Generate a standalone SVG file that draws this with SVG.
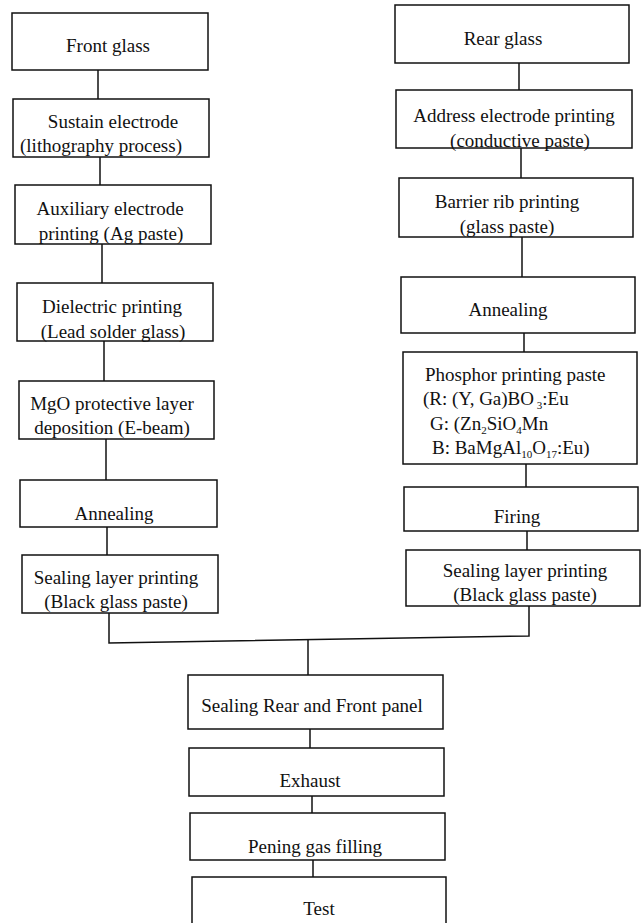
<svg xmlns="http://www.w3.org/2000/svg" width="642" height="923" viewBox="0 0 642 923">
<style>
rect.b{fill:#fff;stroke:#111;stroke-width:1.5}
text{font-family:"Liberation Serif","Times New Roman",serif;font-size:19px;fill:#111;text-anchor:middle}
text.l{text-anchor:start}
.c line,.c polyline{stroke:#111;stroke-width:1.5;fill:none}
tspan.s{font-size:11px}
</style>
<rect width="642" height="923" fill="#fff"/>
<g class="c" id="connectors">
<line x1="98" y1="70" x2="98" y2="99"/>
<line x1="100" y1="157" x2="100" y2="185"/>
<line x1="102" y1="244" x2="102" y2="283"/>
<line x1="104" y1="341" x2="104" y2="381"/>
<line x1="106" y1="439" x2="106" y2="480"/>
<line x1="107" y1="527" x2="107" y2="555"/>
<line x1="519" y1="63" x2="519" y2="90"/>
<line x1="521" y1="148" x2="521" y2="178"/>
<line x1="522" y1="237" x2="522" y2="277"/>
<line x1="524" y1="333" x2="524" y2="352"/>
<line x1="526" y1="464" x2="526" y2="487"/>
<line x1="527" y1="531" x2="527" y2="550"/>
<polyline points="109,613 109,643 529,636 529,606"/>
<line x1="308" y1="640" x2="308" y2="675"/>
<line x1="310" y1="729" x2="310" y2="748"/>
<line x1="312" y1="796" x2="312" y2="813"/>
<line x1="313" y1="860" x2="313" y2="877"/>
</g>
<g id="front-glass"><rect class="b" x="12" y="13" width="196" height="57"/><text x="108" y="52">Front glass</text></g>
<g id="sustain"><rect class="b" x="13" y="99" width="196" height="58"/><text x="113" y="128">Sustain electrode</text><text x="101" y="152">(lithography process)</text></g>
<g id="auxiliary"><rect class="b" x="15" y="185" width="196" height="59"/><text x="110" y="215">Auxiliary electrode</text><text x="111" y="240">printing (Ag paste)</text></g>
<g id="dielectric"><rect class="b" x="17" y="283" width="196" height="58"/><text x="112" y="313">Dielectric printing</text><text x="113" y="338">(Lead solder glass)</text></g>
<g id="mgo"><rect class="b" x="19" y="381" width="195" height="58"/><text x="112" y="410">MgO protective layer</text><text x="112" y="434">deposition (E-beam)</text></g>
<g id="annealing-left"><rect class="b" x="20" y="480" width="197" height="47"/><text x="114" y="520">Annealing</text></g>
<g id="sealing-left"><rect class="b" x="22" y="555" width="196" height="58"/><text x="116" y="584">Sealing layer printing</text><text x="116" y="608">(Black glass paste)</text></g>
<g id="rear-glass"><rect class="b" x="395" y="5" width="234" height="58"/><text x="503" y="45">Rear glass</text></g>
<g id="address"><rect class="b" x="396" y="90" width="236" height="58"/><text x="514" y="122">Address electrode printing</text><text x="520" y="147">(conductive paste)</text></g>
<g id="barrier"><rect class="b" x="399" y="178" width="234" height="59"/><text x="507" y="208">Barrier rib printing</text><text x="507" y="233">(glass paste)</text></g>
<g id="annealing-right"><rect class="b" x="401" y="277" width="234" height="56"/><text x="508" y="316">Annealing</text></g>
<g id="phosphor"><rect class="b" x="403" y="352" width="234" height="112"/>
<text class="l" x="425" y="381">Phosphor printing paste</text>
<text class="l" x="423" y="405">(R: (Y, Ga)BO<tspan class="s" dy="4"> 3</tspan><tspan dy="-4">:Eu</tspan></text>
<text class="l" x="430" y="430">G: (Zn<tspan class="s" dy="4">2</tspan><tspan dy="-4">SiO</tspan><tspan class="s" dy="4">4</tspan><tspan dy="-4">Mn</tspan></text>
<text class="l" x="432" y="454">B: BaMgAl<tspan class="s" dy="4">10</tspan><tspan dy="-4">O</tspan><tspan class="s" dy="4">17</tspan><tspan dy="-4">:Eu)</tspan></text>
</g>
<g id="firing"><rect class="b" x="404" y="487" width="234" height="44"/><text x="517" y="523">Firing</text></g>
<g id="sealing-right"><rect class="b" x="406" y="550" width="234" height="56"/><text x="525" y="577">Sealing layer printing</text><text x="525" y="601">(Black glass paste)</text></g>
<g id="sealing-panel"><rect class="b" x="188" y="675" width="255" height="54"/><text x="312" y="712">Sealing Rear and Front panel</text></g>
<g id="exhaust"><rect class="b" x="189" y="748" width="255" height="48"/><text x="310" y="787">Exhaust</text></g>
<g id="gas-filling"><rect class="b" x="190" y="813" width="255" height="47"/><text x="315" y="853">Pening gas filling</text></g>
<g id="test"><rect class="b" x="192" y="877" width="254" height="60"/><text x="319" y="915">Test</text></g>
</svg>
